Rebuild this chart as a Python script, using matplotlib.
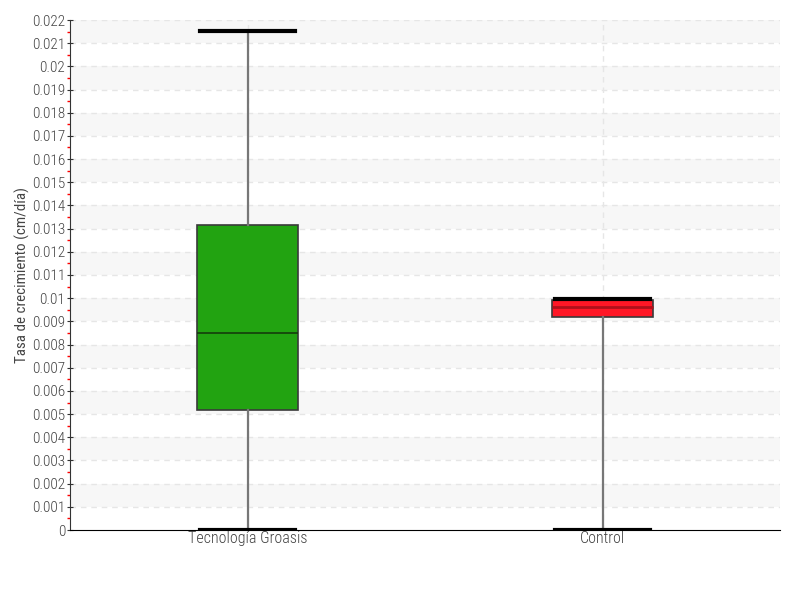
import numpy as np
import matplotlib.pyplot as plt
from matplotlib.ticker import FixedLocator

plt.rcParams['font.family'] = ['Roboto Condensed', 'DejaVu Sans']
plt.rcParams['font.weight'] = 300

# box statistics
categories = ['Tecnología Groasis', 'Control']
whisker_low = [0.0, 0.0]
q1 = [0.00518, 0.00920]
median = [0.0085, 0.0096]
q3 = [0.01316, 0.00992]
whisker_high = [0.02153, 0.00995]
box_colors = ['#22a311', '#ff1726']
median_colors = ['#143d0c', '#b0101a']

yticks = np.round(np.arange(0, 0.0221, 0.001), 3)


def fmt(v):
    if v == 0:
        return '0'
    return ('%.3f' % v).rstrip('0')


fig = plt.figure(figsize=(8, 6), dpi=100)
ax = fig.add_axes([70 / 800, 70 / 600, 710 / 800, 510 / 600])

# alternating bands
for lo in yticks[1::2]:
    ax.axhspan(lo, lo + 0.001, color='#f7f7f7', zorder=0, lw=0)
for v in yticks[1:]:
    ax.axhline(v, color='#e6e6e6', lw=1, ls=(0, (4, 3.5)), zorder=0.5)

stats = []
for i, c in enumerate(categories):
    stats.append({'label': c, 'whislo': whisker_low[i], 'q1': q1[i], 'med': median[i],
                  'q3': q3[i], 'whishi': whisker_high[i], 'fliers': []})

positions = [0.5, 1.5]
for p in positions:
    ax.axvline(p, color='#e6e6e6', lw=1, ls=(0, (4, 3.5)), zorder=0.5)

bp = ax.bxp(stats, positions=positions, widths=0.285, patch_artist=True,
            showfliers=False, zorder=3,
            whiskerprops=dict(color='#777777', lw=1.6),
            capprops=dict(color='black', lw=3),
            capwidths=0.27)
for i, box in enumerate(bp['boxes']):
    box.set_facecolor(box_colors[i])
    box.set_edgecolor('#3a3a3a')
    box.set_linewidth(1.2)
for i, med in enumerate(bp['medians']):
    med.set_color(median_colors[i])
    med.set_linewidth(1.2 if i == 0 else 2)

ax.set_xlim(0, 2)
ax.set_ylim(0, 0.022)
ax.set_yticks(yticks)
ax.set_yticklabels([fmt(v) for v in yticks])
ax.yaxis.set_minor_locator(FixedLocator(np.arange(0.0005, 0.022, 0.001)))
ax.tick_params(axis='y', which='minor', length=2.5, color='red', width=1)
ax.tick_params(axis='y', which='major', direction='inout', length=5, color='#333333',
               labelsize=11, labelcolor='#444444', pad=1)
ax.tick_params(axis='x', length=0, labelsize=11.5, labelcolor='#444444', pad=1)
ax.set_xticks(positions)
ax.set_xticklabels(categories)

for s in ['top', 'right']:
    ax.spines[s].set_visible(False)
ax.spines['left'].set_color('#333333')
ax.spines['bottom'].set_color('black')

ax.set_ylabel('Tasa de crecimiento (cm/día)', fontsize=10.8, color='#444444')
ax.yaxis.set_label_coords(-0.056, 0.5)

fig.savefig('out.png', dpi=100)
